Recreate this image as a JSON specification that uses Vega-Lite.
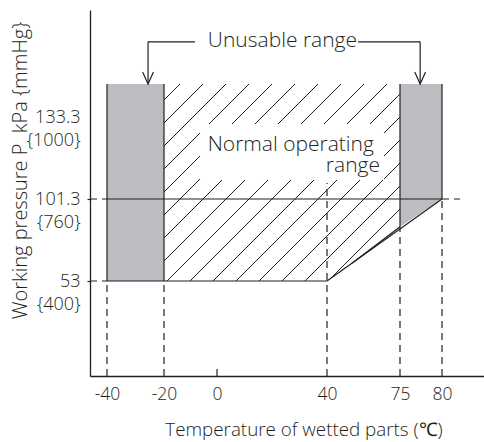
{
  "$schema": "https://vega.github.io/schema/vega-lite/v6.json",
  "width": 394,
  "height": 366,
  "autosize": "none",
  "padding": {"left": 90, "top": 10, "right": 0, "bottom": 66},
  "background": "white",
  "config": {"view": {"stroke": null}, "font": "Open Sans"},
  "datasets": {
    "boxes": [
      {"x": -40, "x2": -20, "y": 53, "y2": 150},
      {"x": 75, "x2": 80, "y": 101.3, "y2": 150}
    ],
    "tri": [
      {"x": 75, "y": 85, "y2": 101.3},
      {"x": 80, "y": 101.3, "y2": 101.3}
    ],
    "hatch": [
      {"x": -13.96, "y": 150, "x2": -20, "y2": 141.9},
      {"x": -5.28, "y": 150, "x2": -20, "y2": 130.96},
      {"x": 3.27, "y": 150, "x2": -20, "y2": 121.98},
      {"x": 11.64, "y": 150, "x2": -20, "y2": 113.01},
      {"x": 20.0, "y": 150, "x2": -20, "y2": 104.03},
      {"x": 28.36, "y": 150, "x2": -20, "y2": 91.88},
      {"x": 36.73, "y": 150, "x2": -20, "y2": 78.33},
      {"x": 46.71, "y": 150, "x2": -20, "y2": 64.78},
      {"x": 57.74, "y": 150, "x2": -18.87, "y2": 53},
      {"x": 68.77, "y": 150, "x2": -10.19, "y2": 53},
      {"x": 75, "y": 144.94, "x2": -1.51, "y2": 53},
      {"x": 75, "y": 133.3, "x2": 6.91, "y2": 53},
      {"x": 75, "y": 124.32, "x2": 15.27, "y2": 53},
      {"x": 75, "y": 115.35, "x2": 23.64, "y2": 53},
      {"x": 75, "y": 106.37, "x2": 32.0, "y2": 53},
      {"x": 75, "y": 95.41, "x2": 41.68, "y2": 54.47}
    ],
    "mask": [
      {"x": -6.4, "x2": 67.3, "y": 108.7, "y2": 130.6}
    ],
    "solid": [
      {"x": -40, "y": 53, "x2": -40, "y2": 150},
      {"x": -20, "y": 53, "x2": -20, "y2": 150},
      {"x": 75, "y": 85, "x2": 75, "y2": 150},
      {"x": 80, "y": 101.3, "x2": 80, "y2": 150},
      {"x": -40, "y": 101.3, "x2": 80, "y2": 101.3},
      {"x": -40, "y": 53, "x2": 40, "y2": 53},
      {"x": 40, "y": 53, "x2": 80, "y2": 101.3},
      {"x": 51.99, "y": 63.48, "x2": 75, "y2": 85},
      {"x": 0, "y": 0, "x2": 0, "y2": 3.9},
      {"x": -25.6, "y": 150, "x2": -25.6, "y2": 167.1},
      {"x": -25.6, "y": 167.1, "x2": -8.3, "y2": 167.1},
      {"x": 54.9, "y": 167.1, "x2": 77.4, "y2": 167.1},
      {"x": 77.4, "y": 167.1, "x2": 77.4, "y2": 150}
    ],
    "dashed": [
      {"x": -40, "y": 0, "x2": -40, "y2": 53},
      {"x": -20, "y": 0, "x2": -20, "y2": 53},
      {"x": 40, "y": 0, "x2": 40, "y2": 107.5},
      {"x": 75, "y": 0, "x2": 75, "y2": 85},
      {"x": 80, "y": 0, "x2": 80, "y2": 101.3},
      {"x": -46, "y": 101.3, "x2": -40, "y2": 101.3},
      {"x": 80, "y": 101.3, "x2": 84.3, "y2": 101.3},
      {"x": -46, "y": 53, "x2": -40, "y2": 53}
    ],
    "arrows": [
      {"x": -25.6, "y": 150},
      {"x": 77.4, "y": 150}
    ],
    "labels": [
      {"x": 54.4, "y": 165.1, "text": "Unusable range"},
      {"x": 62.5, "y": 120.2, "text": "Normal operating"},
      {"x": 65.4, "y": 111.8, "text": "range"}
    ]
  },
  "encoding": {
    "x": {
      "field": "x",
      "type": "quantitative",
      "scale": {"domain": [-46, -40, -20, 0, 40, 75, 80, 90], "range": [0, 17, 74, 127, 237, 310, 352, 394], "zero": false, "nice": false},
      "axis": {
        "values": [-40, -20, 0, 40, 75, 80],
        "labelExpr": "'' + datum.value",
        "title": "Temperature of wetted parts (℃)",
        "grid": false,
        "ticks": false,
        "domainColor": "#231f20",
        "domainWidth": 1.3,
        "labelFont": "Open Sans",
        "labelFontSize": 17.5,
        "labelFontWeight": 300,
        "labelColor": "#231f20",
        "labelPadding": 9,
        "labelBaseline": "top",
        "labelFlush": false,
        "labelOverlap": false,
        "titleFont": "Open Sans",
        "titleFontSize": 18.8,
        "titleFontWeight": 300,
        "titleColor": "#231f20",
        "titleX": 213.5,
        "titleY": 59,
        "titleAlign": "center",
        "titleBaseline": "alphabetic"
      }
    },
    "y": {
      "field": "y",
      "type": "quantitative",
      "scale": {"domain": [0, 53, 101.3, 133.3, 150, 180], "range": [366, 271, 189, 107, 74, 0], "zero": false, "nice": false},
      "axis": {
        "values": [53, 101.3, 133.3],
        "labelExpr": "datum.value == 53 ? ['53', '{400}'] : datum.value == 101.3 ? ['101.3', '{760}'] : ['133.3', '{1000}']",
        "title": "Working pressure P\u00a0 kPa {mmHg}",
        "grid": false,
        "ticks": true,
        "tickSize": 3,
        "tickWidth": 1.2,
        "tickColor": {"condition": {"test": "datum.value > 120", "value": "transparent"}, "value": "#231f20"},
        "domainColor": "#231f20",
        "domainWidth": 1.3,
        "labelFont": "Open Sans",
        "labelFontSize": 18,
        "labelFontWeight": 300,
        "labelColor": "#231f20",
        "labelPadding": 7,
        "labelLineHeight": 23,
        "labelBaseline": "middle",
        "labelAlign": "right",
        "labelOverlap": false,
        "labelFlush": false,
        "titleFont": "Open Sans",
        "titleFontSize": 20,
        "titleFontWeight": 300,
        "titleColor": "#231f20",
        "titleX": -70,
        "titleY": 160,
        "titleAngle": -90,
        "titleAlign": "center",
        "titleBaseline": "middle"
      }
    }
  },
  "layer": [
    {
      "data": {"name": "boxes"},
      "mark": {"type": "rect", "color": "#bcbdc0"},
      "encoding": {"x2": {"field": "x2"}, "y2": {"field": "y2"}}
    },
    {
      "data": {"name": "tri"},
      "mark": {"type": "area", "color": "#bcbdc0", "opacity": 1},
      "encoding": {"y2": {"field": "y2"}}
    },
    {
      "data": {"name": "hatch"},
      "mark": {"type": "rule", "color": "#231f20", "strokeWidth": 1},
      "encoding": {"x2": {"field": "x2"}, "y2": {"field": "y2"}}
    },
    {
      "data": {"name": "mask"},
      "mark": {"type": "rect", "color": "white"},
      "encoding": {"x2": {"field": "x2"}, "y2": {"field": "y2"}}
    },
    {
      "data": {"name": "solid"},
      "mark": {"type": "rule", "color": "#231f20", "strokeWidth": 1.2},
      "encoding": {"x2": {"field": "x2"}, "y2": {"field": "y2"}}
    },
    {
      "data": {"name": "dashed"},
      "mark": {"type": "rule", "color": "#231f20", "strokeWidth": 1.2, "strokeDash": [7, 5]},
      "encoding": {"x2": {"field": "x2"}, "y2": {"field": "y2"}}
    },
    {
      "data": {"name": "arrows"},
      "mark": {"type": "point", "shape": "M -0.45 -1 L 0 0 L 0.45 -1", "size": 576, "filled": false, "color": "#231f20", "strokeWidth": 1.2, "opacity": 1}
    },
    {
      "data": {"name": "labels"},
      "mark": {"type": "text", "align": "right", "baseline": "alphabetic", "font": "Open Sans", "fontSize": 21, "fontWeight": 300, "color": "#231f20"},
      "encoding": {"text": {"field": "text"}}
    }
  ]
}
